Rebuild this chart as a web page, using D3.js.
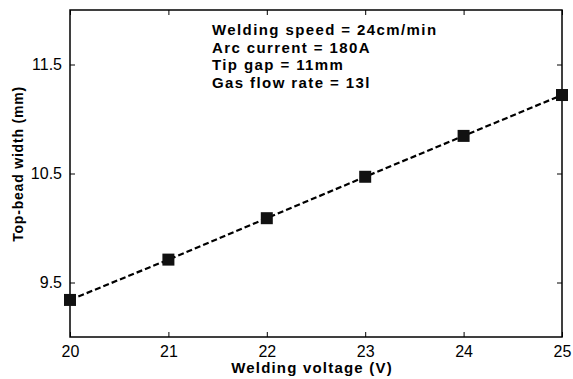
<!DOCTYPE html>
<html><head><meta charset="utf-8">
<script src="https://cdn.jsdelivr.net/npm/d3@7"></script>
<style>body{margin:0;background:#fff}svg{display:block}</style>
</head><body>
<script>
const voltage = [20, 21, 22, 23, 24, 25];
const width = [9.34, 9.71, 10.09, 10.47, 10.845, 11.22];
const xTicks = [20, 21, 22, 23, 24, 25];
const yTicks = [9.5, 10.5, 11.5];
const notes = ["Welding speed = 24cm/min", "Arc current = 180A", "Tip gap = 11mm", "Gas flow rate = 13l"];

const W = 573, H = 379;
const m = {l: 70, t: 10, r: 562, b: 337};
const svg = d3.select("body").append("svg").attr("width", W).attr("height", H);
const x = d3.scaleLinear().domain([20, 25]).range([m.l, m.r]);
const y = d3.scaleLinear().domain([9, 12]).range([m.b, m.t]);
const font = "Arial, 'Liberation Sans', sans-serif";

function styleAxis(g){ g.select(".domain").remove(); g.selectAll("line").attr("stroke","#000").attr("stroke-width",1); g.selectAll("text").attr("font-family",font).attr("font-size",16).attr("fill","#000"); }

svg.append("g").attr("transform",`translate(0,${m.b})`).call(d3.axisBottom(x).tickValues(xTicks).tickSize(-5).tickPadding(9).tickFormat(d3.format("d"))).call(styleAxis);
svg.append("g").attr("transform",`translate(0,${m.t})`).call(d3.axisTop(x).tickValues(xTicks).tickSize(-5).tickFormat("")).call(styleAxis);
svg.append("g").attr("transform",`translate(${m.l},0)`).call(d3.axisLeft(y).tickValues(yTicks).tickSize(-5).tickPadding(8).tickFormat(d3.format(".1f"))).call(styleAxis);
svg.append("g").attr("transform",`translate(${m.r},0)`).call(d3.axisRight(y).tickValues(yTicks).tickSize(-5).tickFormat("")).call(styleAxis);

svg.append("rect").attr("x",m.l).attr("y",m.t).attr("width",m.r-m.l).attr("height",m.b-m.t).attr("fill","none").attr("stroke","#000").attr("stroke-width",1.5);

const pts = voltage.map((v,i)=>[v,width[i]]);
svg.append("path").datum(pts).attr("d", d3.line().x(d=>x(d[0])).y(d=>y(d[1])))
  .attr("fill","none").attr("stroke","#000").attr("stroke-width",2.2).attr("stroke-dasharray","6,3");
svg.selectAll("rect.mk").data(pts).join("rect").attr("class","mk")
  .attr("x",d=>x(d[0])-6).attr("y",d=>y(d[1])-6).attr("width",12).attr("height",12).attr("fill","#111");

svg.append("g").selectAll("text").data(notes).join("text")
  .attr("x",212).attr("y",(d,i)=>35+i*17.5).text(d=>d)
  .attr("font-family",font).attr("font-weight","bold").attr("font-size",15).attr("letter-spacing",1.4).attr("fill","#000");

svg.append("text").attr("x",(m.l+m.r)/2-4).attr("y",373).attr("text-anchor","middle")
  .attr("font-family",font).attr("font-weight","bold").attr("font-size",15).attr("letter-spacing",1.2).text("Welding voltage (V)");
svg.append("text").attr("transform",`translate(23,164) rotate(-90)`).attr("text-anchor","middle")
  .attr("font-family",font).attr("font-weight","bold").attr("font-size",14).attr("letter-spacing",0.8).text("Top-bead width (mm)");
</script>
</body></html>
